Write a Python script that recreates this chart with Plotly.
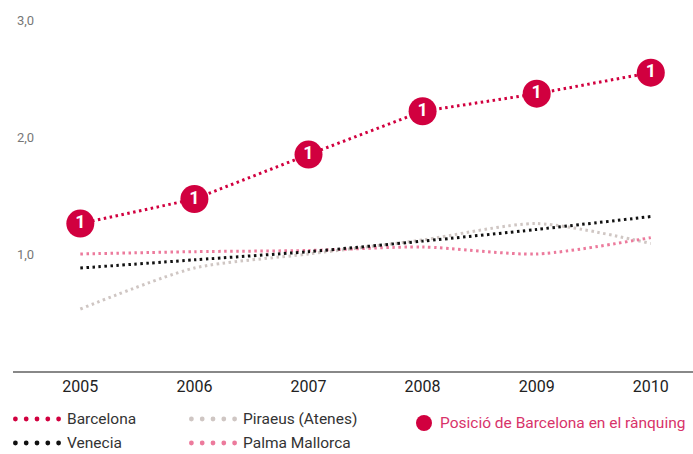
import plotly.graph_objects as go

years = [2005, 2006, 2007, 2008, 2009, 2010]
barcelona = [1.26, 1.47, 1.85, 2.22, 2.37, 2.55]
venecia = [0.88, 0.95, 1.02, 1.11, 1.21, 1.32]
piraeus = [0.53, 0.88, 1.00, 1.12, 1.26, 1.09]
palma = [1.00, 1.02, 1.03, 1.06, 1.00, 1.14]
ranking = ["1", "1", "1", "1", "1", "1"]
ytick_vals = [1, 2, 3]
ytick_text = ["1,0", "2,0", "3,0"]
series_names = ["Barcelona", "Venecia", "Piraeus (Atenes)", "Palma Mallorca"]
ranking_label = "Posició de Barcelona en el rànquing"

RED = "#d1003f"
COLORS = {"Barcelona": RED, "Venecia": "#111111",
          "Piraeus (Atenes)": "#cfc6c3", "Palma Mallorca": "#ec7a9c"}
FONT = "Roboto, sans-serif"
DASH = "2.5px,3.5px"

W, H = 693, 454
ML, MR, MT, MB = 13, 0, 20, 83

fig = go.Figure()

def line(y, name, shape="spline"):
    fig.add_trace(go.Scatter(
        x=years, y=y, name=name, mode="lines", showlegend=False,
        line=dict(color=COLORS[name], width=3, dash=DASH, shape=shape, smoothing=0.7),
        hoverinfo="skip"))

line(piraeus, "Piraeus (Atenes)")
line(palma, "Palma Mallorca")
line(venecia, "Venecia")
line(barcelona, "Barcelona", shape="linear")

fig.add_trace(go.Scatter(
    x=years, y=barcelona, mode="markers+text", text=ranking, name=ranking_label,
    showlegend=False,
    marker=dict(size=28, color=RED, line=dict(width=0)),
    textfont=dict(color="white", size=18, family="Roboto, sans-serif", weight="bold"),
    textposition="middle center", hoverinfo="skip"))

annotations = []
shapes = []
for v, t in zip(ytick_vals, ytick_text):
    annotations.append(dict(x=0, xref="paper", y=v, yref="y", text=t, showarrow=False,
                            xanchor="left", xshift=2, font=dict(size=13, color="#777777")))

# manual legend (pixel positions -> paper coords)
pw, ph = W - ML - MR, H - MT - MB
def px(x):
    return (x - ML) / pw
def py(y):
    return (H - MB - y) / ph

legend_slots = [(13, 419), (13, 443), (189, 419), (189, 443)]
for name, (lx, ly) in zip(series_names, legend_slots):
    for k in range(5):
        cx = lx + 2.4 + k * 10.8
        shapes.append(dict(type="circle", xref="paper", yref="paper",
                           x0=px(cx - 2.4), x1=px(cx + 2.4), y0=py(ly + 2.4), y1=py(ly - 2.4),
                           fillcolor=COLORS[name], line=dict(width=0)))
    annotations.append(dict(x=px(lx + 52), xref="paper", y=py(ly), yref="paper", text=name,
                            showarrow=False, xanchor="left", yanchor="middle",
                            font=dict(size=15.5, color="#333333")))

shapes.append(dict(type="circle", xref="paper", yref="paper",
                   x0=px(416), x1=px(432), y0=py(431), y1=py(415),
                   fillcolor=RED, line=dict(width=0)))
annotations.append(dict(x=px(438), xref="paper", y=py(423), yref="paper", text=ranking_label,
                        showarrow=False, xanchor="left", yanchor="middle",
                        font=dict(size=15.5, color="#d8336a")))

fig.update_layout(
    width=W, height=H,
    margin=dict(l=ML, r=MR, t=MT, b=MB, autoexpand=False),
    paper_bgcolor="white", plot_bgcolor="white",
    font=dict(family=FONT, color="#333333", size=14),
    showlegend=False,
    xaxis=dict(range=[2004.41, 2010.37], tickvals=years, ticktext=[str(y) for y in years],
               showgrid=False, zeroline=False, showline=True, linecolor="#888888", linewidth=2,
               ticks="", tickfont=dict(size=16, color="#222222"), automargin=False),
    yaxis=dict(range=[0, 3], showgrid=False, zeroline=False, showline=False,
               showticklabels=False, ticks="", automargin=False),
    annotations=annotations,
    shapes=shapes,
)

fig.write_html("out.html", config={"displayModeBar": False},
               post_script="document.body.style.margin='0';")
